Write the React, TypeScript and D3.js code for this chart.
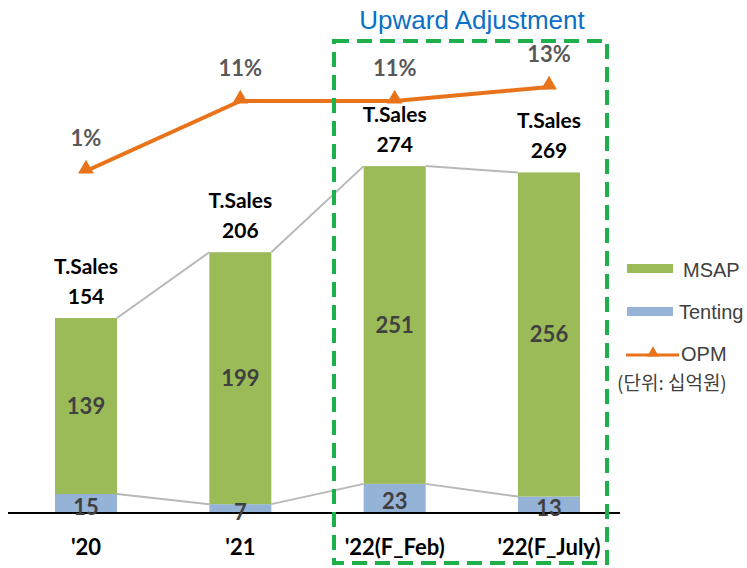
import * as d3 from "d3";

const categories = ["'20", "'21", "'22(F_Feb)", "'22(F_July)"];
const msap = [139, 199, 251, 256];
const tenting = [15, 7, 23, 13];
const totals = [154, 206, 274, 269];
const opm = [1, 11, 11, 13];

const W = 747;
const H = 568;
const base = 513;
const barW = 62;

const GREEN = "#9bbb59";
const BLUE = "#95b3d7";
const ORANGE = "#e9731a";
const LABEL = "'Lato', 'Liberation Sans', sans-serif";

export default function App() {
  const x = d3.scalePoint<string>().domain(categories).range([86, 549]);
  const y = d3.scaleLinear().domain([0, 300]).range([base, base - 300 * 1.266]);
  const yOpm = d3.scaleLinear().domain([0, 10]).range([178, 108]);

  const opmLine = d3
    .line<number>()
    .x((_, i) => x(categories[i])!)
    .y((d) => yOpm(d));

  const tri = d3.symbol(d3.symbolTriangle, 110)()!;

  // connector lines between bar tops (totals and tenting)
  const connectors = (vals: number[]) =>
    vals.slice(0, -1).map((v, i) => ({
      x1: x(categories[i])! + barW / 2,
      y1: y(v),
      x2: x(categories[i + 1])! - barW / 2,
      y2: y(vals[i + 1]),
    }));

  return (
    <svg width={W} height={H} style={{ position: "absolute", left: 0, top: 0, background: "#fff" }}>
      {/* bars */}
      {categories.map((c, i) => (
        <g key={c}>
          <rect x={x(c)! - barW / 2} y={y(tenting[i])} width={barW} height={base - y(tenting[i])} fill={BLUE} />
          <rect
            x={x(c)! - barW / 2}
            y={y(tenting[i] + msap[i])}
            width={barW}
            height={y(tenting[i]) - y(tenting[i] + msap[i])}
            fill={GREEN}
          />
        </g>
      ))}

      {[...connectors(totals), ...connectors(tenting)].map((l, i) => (
        <line key={i} {...l} stroke="#b8b8b8" strokeWidth={2} />
      ))}

      {/* axis baseline */}
      <line x1={8} x2={620} y1={base} y2={base} stroke="#000" strokeWidth={2} />

      {/* segment labels */}
      {categories.map((c, i) => (
        <g key={"lab" + c} fontFamily={LABEL} fontWeight={700} fontSize={22} fill="#404040" textAnchor="middle">
          <text x={x(c)} y={y(tenting[i] + msap[i] / 2) + 8}>{msap[i]}</text>
          <text x={x(c)} y={y(tenting[i] / 2) + 11}>{tenting[i]}</text>
        </g>
      ))}

      {/* totals */}
      {categories.map((c, i) => (
        <g key={"tot" + c} fontFamily={LABEL} fontWeight={700} fontSize={21} fill="#000" textAnchor="middle">
          <text x={x(c)} y={y(totals[i]) - 44}>T.Sales</text>
          <text x={x(c)} y={y(totals[i]) - 14}>{totals[i]}</text>
        </g>
      ))}

      {/* x labels */}
      {categories.map((c) => (
        <text key={"x" + c} x={x(c)} y={555} fontFamily={LABEL} fontWeight={700} fontSize={22} fill="#000" textAnchor="middle">
          {c}
        </text>
      ))}

      {/* OPM line */}
      <path d={opmLine(opm)!} fill="none" stroke={ORANGE} strokeWidth={4} />
      {opm.map((v, i) => (
        <g key={"m" + i}>
          <path d={tri} transform={`translate(${x(categories[i])},${yOpm(v) - 2})`} fill={ORANGE} />
          <text
            x={x(categories[i])}
            y={yOpm(v) - 25}
            fontFamily={LABEL}
            fontWeight={700}
            fontSize={22}
            fill="#595959"
            textAnchor="middle"
          >
            {v}%
          </text>
        </g>
      ))}

      {/* upward adjustment box */}
      <rect x={334} y={41} width={273} height={522} fill="none" stroke="#1db04b" strokeWidth={4} strokeDasharray="15 8" />
      <text x={472} y={29} fontFamily="'Liberation Sans', sans-serif" fontSize={26} fill="#0a70c8" textAnchor="middle">
        Upward Adjustment
      </text>

      {/* legend */}
      <g fontFamily="'Liberation Sans', sans-serif" fontSize={20} fill="#404040">
        <rect x={627} y={264} width={46} height={9} fill={GREEN} />
        <text x={683} y={277}>MSAP</text>
        <rect x={627} y={307} width={46} height={9} fill={BLUE} />
        <text x={679} y={319}>Tenting</text>
        <line x1={626} x2={679} y1={355} y2={355} stroke={ORANGE} strokeWidth={3} />
        <path d={d3.symbol(d3.symbolTriangle, 60)()!} transform="translate(653,353)" fill={ORANGE} />
        <text x={681} y={361}>OPM</text>
        <text x={617} y={390} fontFamily="'Noto Sans CJK KR', sans-serif" fontSize={19}>
          (단위: 십억원)
        </text>
      </g>
    </svg>
  );
}
